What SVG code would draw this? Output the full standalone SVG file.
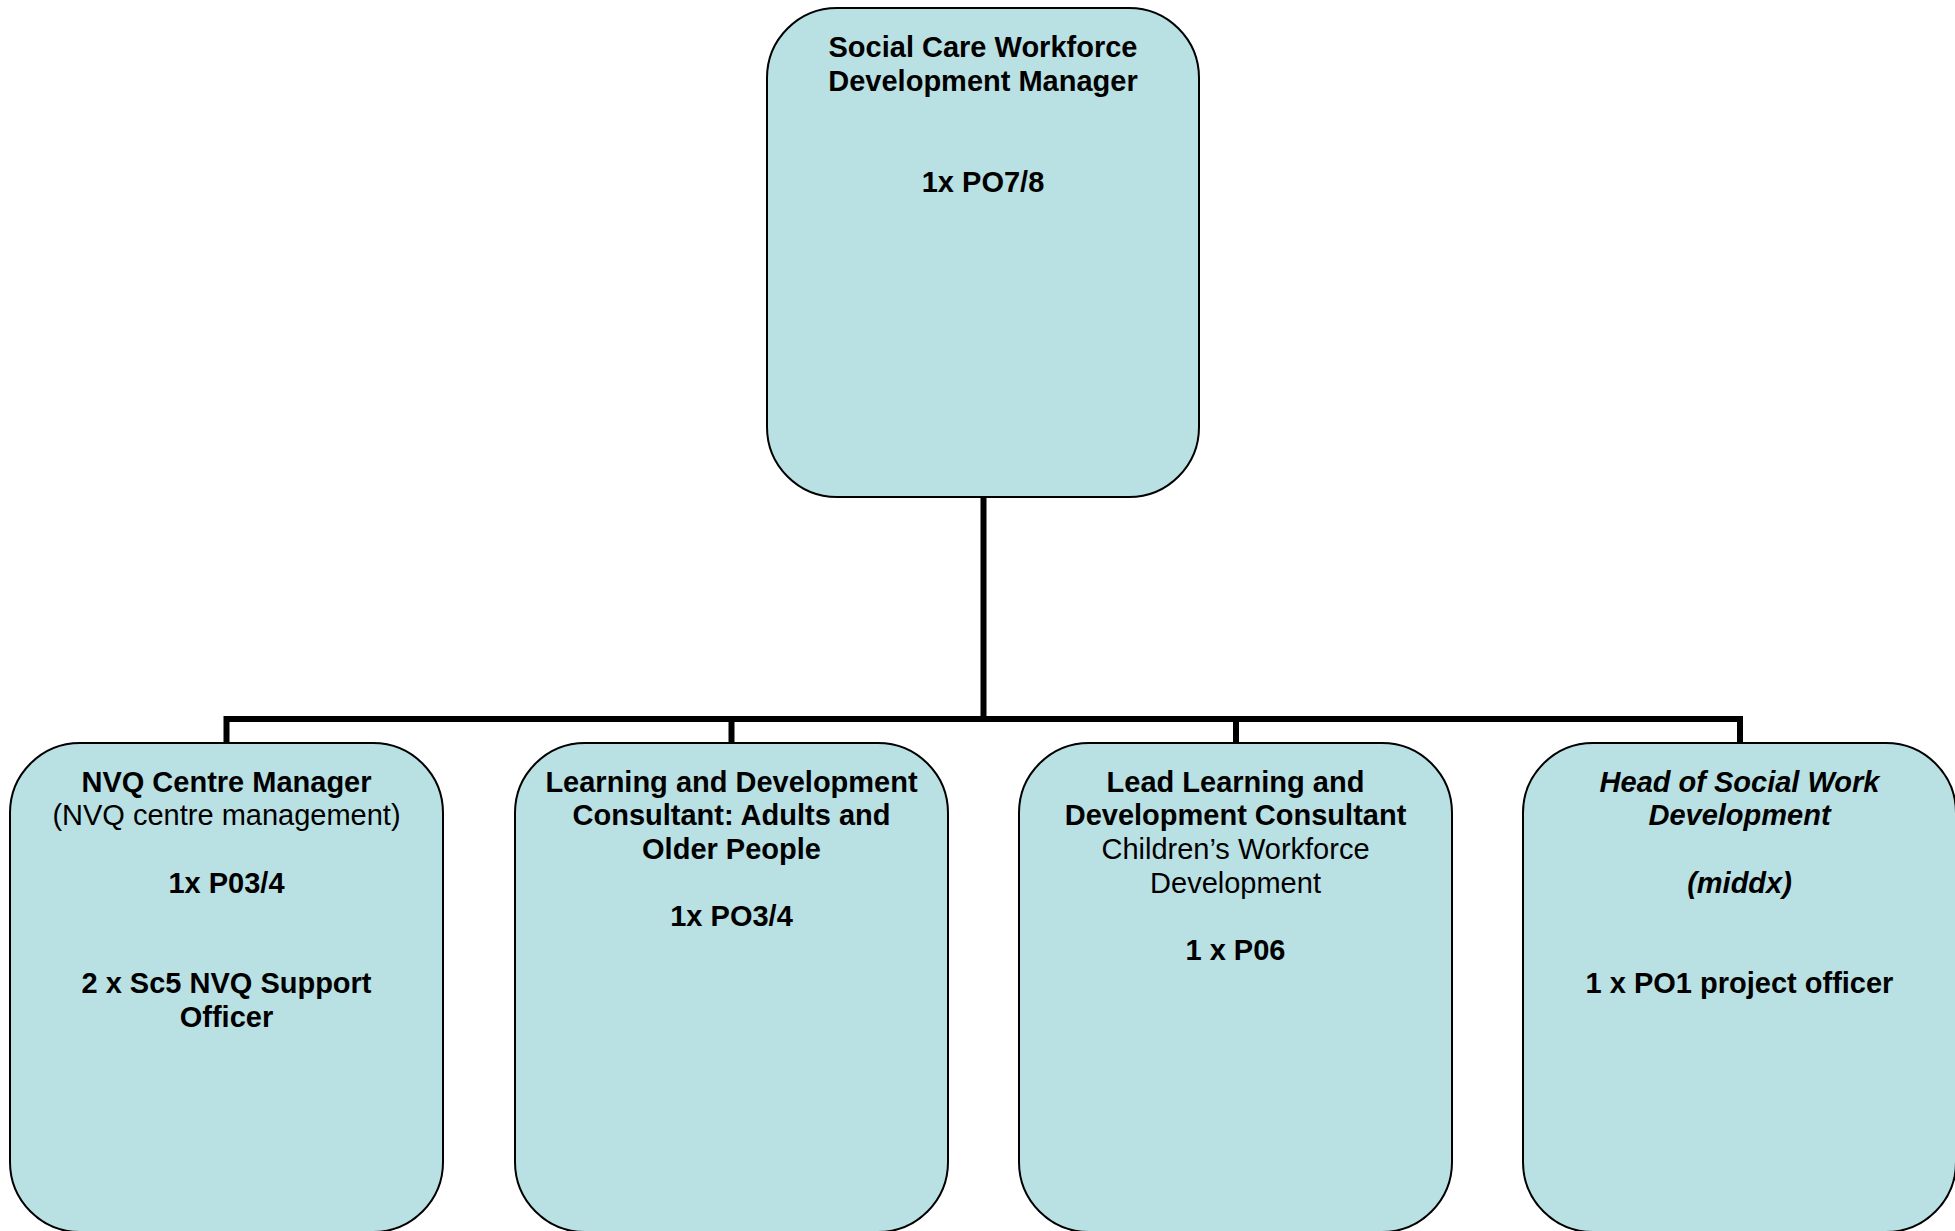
<svg xmlns="http://www.w3.org/2000/svg" width="1955" height="1231" viewBox="0 0 1955 1231">
  <style>
    .box { fill: #B9E0E3; stroke: #000; stroke-width: 2; }
    .link { fill: none; stroke: #000; stroke-width: 6; stroke-linejoin: miter; stroke-linecap: butt; }
    text { font-family: "Liberation Sans", Arial, sans-serif; font-size: 29px; fill: #000; text-anchor: middle; }
    .b { font-weight: bold; }
    .bi { font-weight: bold; font-style: italic; }
  </style>

  <!-- reporting lines -->
  <g id="connectors">
    <path class="link" d="M983.5,497 V719"/>
    <path class="link" d="M226.5,742 V719 H1740 V742"/>
    <path class="link" d="M731.5,719 V742"/>
    <path class="link" d="M1236,719 V742"/>
  </g>

  <!-- top post -->
  <g id="node-manager">
    <rect class="box" x="767" y="8" width="432" height="489" rx="70" ry="70"/>
    <text x="983" y="57" class="b">Social Care Workforce</text>
    <text x="983" y="90.6" class="b">Development Manager</text>
    <text x="983" y="192.4" class="b">1x PO7/8</text>
  </g>

  <!-- second tier -->
  <g id="node-nvq">
    <rect class="box" x="10" y="743" width="433" height="489" rx="70" ry="70"/>
    <text x="226.5" y="791.7" class="b">NVQ Centre Manager</text>
    <text x="226.5" y="825.3">(NVQ centre management)</text>
    <text x="226.5" y="892.5" class="b">1x P03/4</text>
    <text x="226.5" y="993.3" class="b">2 x Sc5 NVQ Support</text>
    <text x="226.5" y="1026.9" class="b">Officer</text>
  </g>

  <g id="node-adults">
    <rect class="box" x="515" y="743" width="433" height="489" rx="70" ry="70"/>
    <text x="731.5" y="791.7" class="b">Learning and Development</text>
    <text x="731.5" y="825.3" class="b">Consultant: Adults and</text>
    <text x="731.5" y="858.9" class="b">Older People</text>
    <text x="731.5" y="926.1" class="b">1x PO3/4</text>
  </g>

  <g id="node-children">
    <rect class="box" x="1019" y="743" width="433" height="489" rx="70" ry="70"/>
    <text x="1235.5" y="791.7" class="b">Lead Learning and</text>
    <text x="1235.5" y="825.3" class="b">Development Consultant</text>
    <text x="1235.5" y="858.9">Children’s Workforce</text>
    <text x="1235.5" y="892.5">Development</text>
    <text x="1235.5" y="959.7" class="b">1 x P06</text>
  </g>

  <g id="node-socialwork">
    <rect class="box" x="1523" y="743" width="433" height="489" rx="70" ry="70"/>
    <text x="1739.5" y="791.7" class="bi">Head of Social Work</text>
    <text x="1739.5" y="825.3" class="bi">Development</text>
    <text x="1739.5" y="892.5" class="bi">(middx)</text>
    <text x="1739.5" y="993.3" class="b">1 x PO1 project officer</text>
  </g>
</svg>
